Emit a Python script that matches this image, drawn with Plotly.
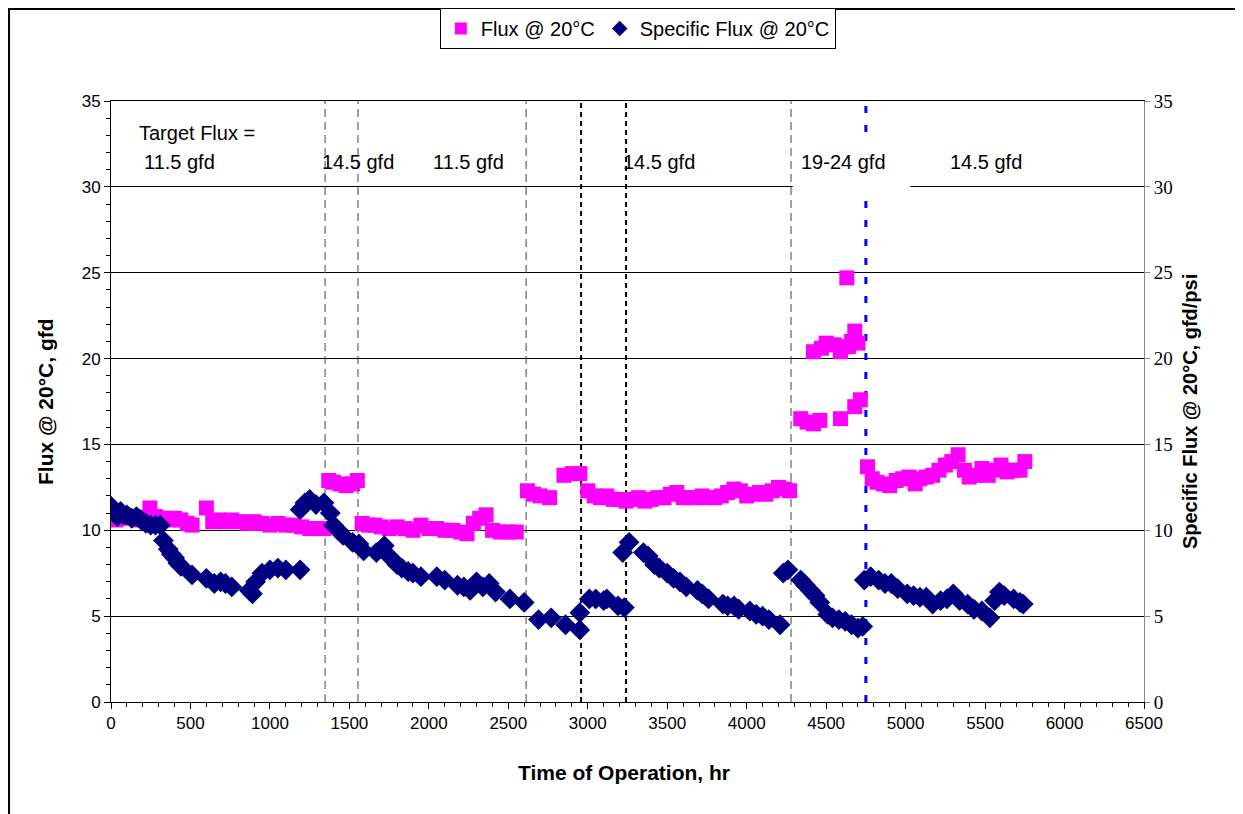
import plotly.graph_objects as go

# ---------------- data ----------------
flux_time = [0, 30, 60, 100, 140, 180, 220, 245, 280, 320, 360, 400, 440, 480, 510,
             600, 640, 680, 720, 760, 810, 860, 900, 950, 1000, 1050, 1100, 1150, 1200, 1250, 1300, 1340,
             1370, 1400, 1440, 1480, 1520, 1550,
             1580, 1620, 1660, 1700, 1750, 1800, 1850, 1900, 1950, 2000, 2050, 2100, 2150, 2200, 2240,
             2280, 2320, 2360, 2400, 2450, 2500, 2550,
             2620, 2660, 2700, 2760, 2850, 2900, 2950,
             3000, 3040, 3080, 3120, 3160, 3200, 3240,
             3280, 3320, 3360, 3400, 3440, 3480, 3520, 3560, 3600, 3640, 3680, 3720, 3760, 3800, 3840,
             3880, 3920, 3960, 4000, 4040, 4080, 4120, 4160, 4200, 4240, 4270,
             4340, 4380, 4420, 4460, 4420, 4470, 4500, 4550, 4590, 4630, 4590, 4640, 4660, 4680, 4700,
             4680, 4715,
             4760, 4790, 4820, 4860, 4900, 4940, 4980, 5020, 5060, 5090, 5130, 5170, 5210, 5250, 5290,
             5330, 5370, 5400, 5440, 5480, 5520, 5560, 5600, 5640, 5680, 5720, 5750]
flux_value = [10.8, 10.6, 10.9, 10.7, 10.8, 10.6, 10.7, 11.3, 10.8, 10.7, 10.6, 10.7, 10.6, 10.4, 10.3,
              11.3, 10.5, 10.6, 10.5, 10.6, 10.5, 10.4, 10.5, 10.4, 10.3, 10.4, 10.3, 10.3, 10.2, 10.1, 10.1, 10.1,
              12.9, 12.8, 12.7, 12.6, 12.7, 12.9,
              10.4, 10.3, 10.3, 10.2, 10.1, 10.2, 10.1, 10.0, 10.3, 10.1, 10.1, 10.0, 10.0, 9.9, 9.8,
              10.4, 10.7, 10.9, 10.0, 9.9, 9.9, 9.9,
              12.3, 12.1, 12.0, 11.9, 13.2, 13.3, 13.3,
              12.3, 12.0, 11.9, 12.0, 11.8, 11.8, 11.7,
              11.8, 11.9, 11.7, 11.8, 11.9, 11.9, 12.1, 12.2, 11.9, 11.9, 11.9, 12.0, 11.9, 11.9, 12.0,
              12.2, 12.4, 12.3, 12.0, 12.1, 12.2, 12.1, 12.3, 12.5, 12.4, 12.3,
              16.5, 16.3, 16.2, 16.4, 20.4, 20.6, 20.9, 20.8, 20.4, 24.7, 16.5, 20.7, 21.0, 21.6, 20.9,
              17.2, 17.6,
              13.7, 13.0, 12.8, 12.7, 12.6, 12.9, 13.0, 13.1, 12.7, 13.0, 13.1, 13.2, 13.5, 13.8, 14.0,
              14.4, 13.5, 13.1, 13.2, 13.6, 13.2, 13.5, 13.8, 13.4, 13.5, 13.5, 14.0]

spec_time = [0, 20, 40, 60, 80, 100, 130, 160, 190, 220, 250, 280, 310, 330, 360, 380, 400, 420, 440,
             510, 600, 650, 690, 720, 760, 870, 890, 910, 950, 1000, 1050, 1100, 1190,
             1190, 1220, 1250, 1290, 1340, 1380, 1400, 1430, 1460, 1520, 1560, 1590, 1670, 1720, 1760,
             1800, 1830, 1870, 1900, 1950, 2050, 2100, 2180, 2220, 2260, 2300, 2340, 2380, 2420, 2510,
             2600, 2690, 2770, 2860, 2950, 2950, 3010, 3050, 3100, 3120, 3190, 3230,
             3220, 3260, 3350, 3380, 3420, 3450, 3500, 3540, 3580, 3620, 3690, 3720, 3760, 3850, 3880,
             3920, 3950, 4020, 4060, 4100, 4140, 4210,
             4230, 4260, 4340, 4370, 4400, 4430, 4460, 4510, 4540, 4580, 4620, 4660, 4700, 4730,
             4740, 4780, 4830, 4870, 4910, 4950, 5010, 5050, 5090, 5130, 5170, 5220, 5260, 5300, 5340,
             5390, 5430, 5480, 5530, 5560, 5590, 5620, 5680, 5720, 5740]
spec_value = [11.4, 11.0, 10.8, 11.1, 10.9, 10.9, 10.7, 10.8, 10.6, 10.4, 10.3, 10.3, 10.3, 9.4, 8.9,
              8.6, 8.4, 8.1, 7.9,
              7.4, 7.2, 6.9, 7.0, 6.9, 6.7, 6.5, 6.3, 7.0, 7.5, 7.7, 7.8, 7.7, 7.7,
              11.2, 11.6, 11.8, 11.5, 11.6, 11.0, 10.3, 10.0, 9.7, 9.3, 9.2, 8.8, 8.7, 9.1, 8.4,
              8.0, 7.8, 7.6, 7.5, 7.3, 7.3, 7.1, 6.8, 6.7, 6.5, 7.0, 6.7, 6.9, 6.4, 6.0,
              5.8, 4.8, 4.9, 4.5, 5.2, 4.2, 6.0, 6.0, 5.9, 6.0, 5.6, 5.5,
              8.7, 9.3, 8.7, 8.5, 8.0, 7.8, 7.5, 7.2, 7.0, 6.7, 6.5, 6.3, 6.0, 5.7, 5.6,
              5.6, 5.4, 5.3, 5.1, 5.0, 4.8, 4.5,
              7.5, 7.7, 7.1, 6.8, 6.5, 6.2, 5.8, 5.1, 4.9, 4.8, 4.7, 4.5, 4.3, 4.4,
              7.1, 7.3, 7.1, 6.9, 6.9, 6.6, 6.3, 6.2, 6.1, 6.1, 5.7, 5.9, 6.0, 6.3, 5.9,
              5.7, 5.4, 5.3, 4.9, 5.9, 6.4, 6.2, 6.0, 5.8, 5.7]

phase_lines_gray = [1347, 1554, 2612, 4279]
phase_lines_black = [2958, 3241]
phase_line_blue = [4750]

target_labels = ["Target Flux =", "11.5 gfd", "14.5 gfd", "11.5 gfd", "14.5 gfd", "19-24 gfd", "14.5 gfd"]
target_label_x = [544, 428, 1557, 2250, 3448, 4612, 5503]
target_label_y = [33.14, 31.45, 31.45, 31.45, 31.45, 31.45, 31.45]

# ---------------- figure ----------------
SANS = "Liberation Sans, Arial, sans-serif"
SERIF = "Liberation Serif, Times New Roman, serif"

fig = go.Figure()
fig.add_trace(go.Scatter(
    x=flux_time, y=flux_value, mode="markers", name="Flux @ 20°C",
    marker=dict(symbol="square", size=15, color="#FF00FF", line=dict(width=0)),
    yaxis="y"))
fig.add_trace(go.Scatter(
    x=spec_time, y=spec_value, mode="markers", name="Specific Flux @ 20°C",
    marker=dict(symbol="diamond", size=16, color="#000080", line=dict(width=0)),
    yaxis="y2"))

shapes = []
for xv in phase_lines_gray:
    shapes.append(dict(type="line", xref="x", yref="y", x0=xv, x1=xv, y0=0, y1=35,
                       line=dict(color="#444444", width=1, dash="8px,5px"), layer="between"))
for xv in phase_lines_black:
    shapes.append(dict(type="line", xref="x", yref="y", x0=xv, x1=xv, y0=0, y1=35,
                       line=dict(color="black", width=2, dash="5px,4px"), layer="between"))
for xv in phase_line_blue:
    shapes.append(dict(type="line", xref="x", yref="y", x0=xv, x1=xv, y0=0, y1=35,
                       line=dict(color="#0000FF", width=3, dash="7px,12px"), layer="between"))
# white box behind the "19-24 gfd" label
shapes.append(dict(type="rect", xref="x", yref="y", x0=4290, x1=5030, y0=29.6, y1=32.6,
                   fillcolor="white", line=dict(width=0), layer="between"))
# outer chart frame
shapes.append(dict(type="rect", xref="paper", yref="paper", x0=-0.0987, x1=1.0939, y0=-0.25, y1=1.1531,
                   line=dict(color="black", width=2), fillcolor="rgba(0,0,0,0)", layer="above"))

annotations = []
for t, xv, yv in zip(target_labels, target_label_x, target_label_y):
    annotations.append(dict(text=t, x=xv, y=yv, xref="x", yref="y", showarrow=False,
                            xanchor="center", yanchor="middle",
                            font=dict(family=SANS, size=20, color="black")))
annotations.append(dict(text="<b>Flux @ 20°C, gfd</b>", x=-0.0639, y=0.5008, xref="paper", yref="paper",
                        textangle=-90, showarrow=False, xanchor="center", yanchor="middle",
                        font=dict(family=SANS, size=21, color="black")))
annotations.append(dict(text="<b>Specific Flux @ 20°C, gfd/psi</b>", x=1.0445, y=0.484, xref="paper",
                        yref="paper", textangle=-90, showarrow=False, xanchor="center", yanchor="middle",
                        font=dict(family=SANS, size=20, color="black")))
annotations.append(dict(text="<b>Time of Operation, hr</b>", x=0.4966, y=-0.118, xref="paper", yref="paper",
                        showarrow=False, xanchor="center", yanchor="middle",
                        font=dict(family=SANS, size=21, color="black")))

fig.update_layout(
    width=1235, height=806,
    margin=dict(l=103, r=99, t=93, b=112, autoexpand=False),
    paper_bgcolor="white", plot_bgcolor="white",
    font=dict(family=SANS, size=17, color="black"),
    showlegend=True,
    legend=dict(orientation="h", x=0.51, xanchor="center", y=1.1547, yanchor="top",
                bordercolor="black", borderwidth=1, bgcolor="white",
                font=dict(family=SANS, size=20, color="black"), itemsizing="constant",
                itemwidth=30, tracegroupgap=0),
    xaxis=dict(range=[0, 6500], tick0=0, dtick=500, ticks="outside", ticklen=6, tickcolor="black",
               showline=True, linecolor="black", linewidth=1, mirror=True, showgrid=False, zeroline=False,
               tickfont=dict(family=SANS, size=17, color="black"),
               minor=dict(dtick=100, ticks="outside", ticklen=4, tickcolor="black", showgrid=False)),
    yaxis=dict(range=[0, 35], tick0=0, dtick=5, ticks="outside", ticklen=6, tickcolor="black",
               showline=True, linecolor="black", linewidth=1, showgrid=True, gridcolor="black",
               gridwidth=1, zeroline=False, tickfont=dict(family=SANS, size=17, color="black"),
               minor=dict(dtick=1, ticks="outside", ticklen=4, tickcolor="black", showgrid=False)),
    yaxis2=dict(range=[0, 35], tick0=0, dtick=5, overlaying="y", side="right", ticks="outside",
                ticklen=5, tickcolor="#888888", showline=True, linecolor="#888888", linewidth=1,
                showgrid=False, zeroline=False, tickfont=dict(family=SERIF, size=19, color="black")),
    shapes=shapes,
    annotations=annotations,
)

fig.write_html("out.html")
